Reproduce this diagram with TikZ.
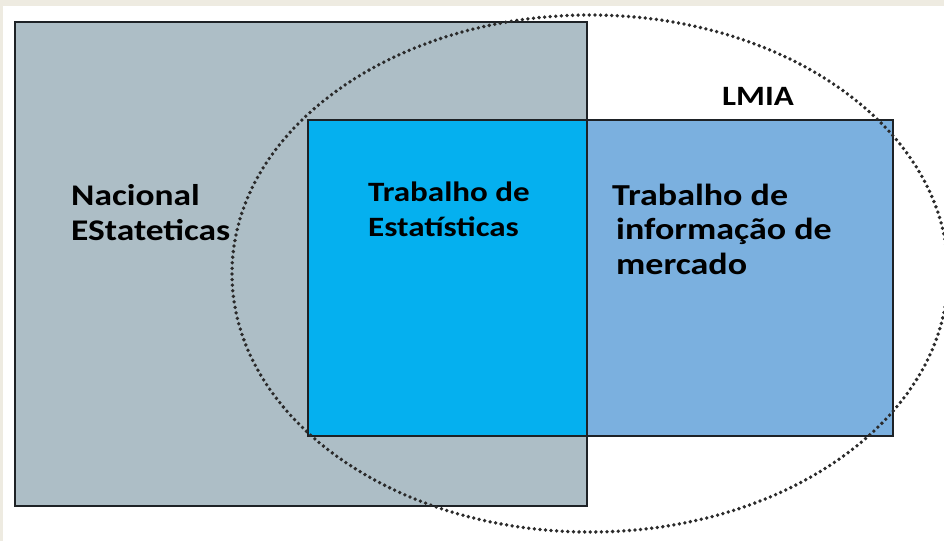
\documentclass[tikz,border=0pt]{standalone}
\usepackage{fontspec}
\setmainfont[FakeStretch=1.18]{Carlito}
\definecolor{framebg}{HTML}{EEEBE1}
\definecolor{grayfill}{HTML}{ADBEC6}
\definecolor{overlapblue}{HTML}{05B0EF}
\definecolor{rightblue}{HTML}{7BB0DF}
\definecolor{edgecol}{HTML}{1E2226}
\definecolor{dotcol}{HTML}{2A2A2A}
\tikzset{
  boxedge/.style={draw=edgecol, line width=2pt},
  lbl/.style={inner sep=0pt, anchor=base west, align=left, font=\bfseries\fontsize{28}{35}\selectfont, text=black},
  dottedring/.style={draw=dotcol, line width=3.8pt, line cap=round, dash pattern=on 0pt off 5.6pt}
}
\begin{document}
\begin{tikzpicture}[x=1pt,y=-1pt]
\fill[framebg] (0,0) rectangle (944,541);
\fill[white] (3,6) rectangle (944,541);
\useasboundingbox (0,0) rectangle (944,541);
% national statistics box
\path[fill=grayfill, boxedge] (15,22) rectangle (587,506);
% LMIA box: overlap part and right part
\fill[overlapblue] (308,120) rectangle (587,436);
\fill[rightblue] (587,120) rectangle (893,436);
\draw[edgecol, line width=1.2pt] (587,120) -- (587,436);
\draw[boxedge] (308,120) rectangle (893,436);
% dotted ellipse
\path[dottedring] (590,273.5) ellipse [x radius=358, y radius=258.5];
% labels (base anchor = baseline of last line)
\node[lbl, font=\bfseries\fontsize{30}{35}\selectfont] (nac) at (71,240) {Nacional\\EStateticas};
\node[lbl] (trab) at (368,236) {Trabalho de\\Estatísticas};
\node[lbl, font=\bfseries\fontsize{30.5}{34.5}\selectfont] (info) at (612,274) {Trabalho de\\\hspace*{4pt}informação de\\\hspace*{4pt}mercado};
\node[lbl] (lmia) at (722,105) {LMIA};
\end{tikzpicture}
\end{document}
